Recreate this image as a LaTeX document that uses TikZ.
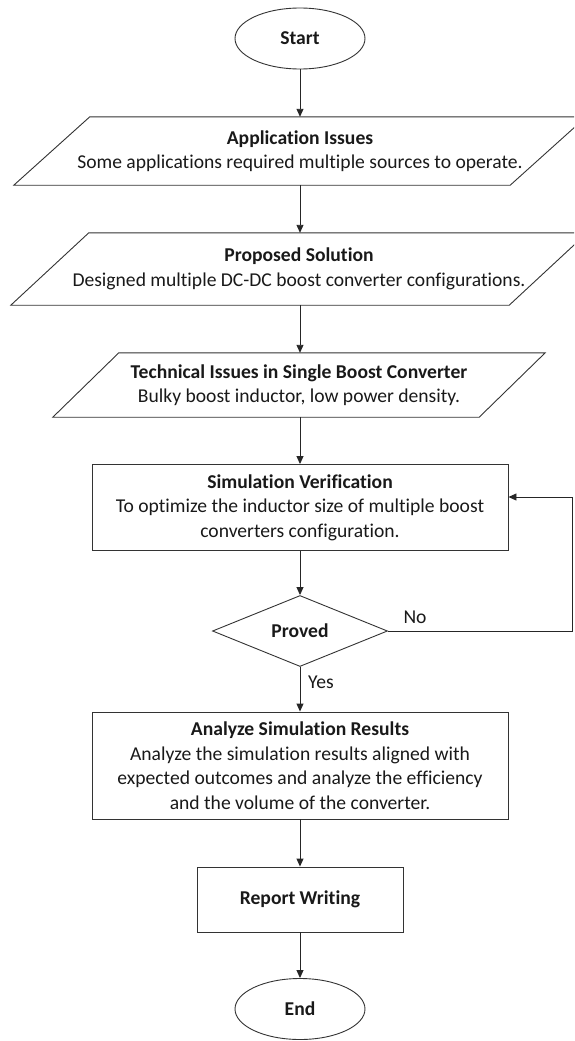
\documentclass[tikz,border=0pt]{standalone}
\usepackage{fontspec}
\setmainfont{Carlito}[Ligatures=NoCommon]
\usetikzlibrary{shapes.geometric,arrows.meta}

\begin{document}
\begin{tikzpicture}[x=1pt,y=-1pt,
  every node/.style={inner sep=0pt,align=center,text=black!90,font=\fontsize{19.6}{24.5}\selectfont},
  line/.style={draw=black!80,line width=0.9pt},
  term/.style={line,ellipse,minimum width=130pt,minimum height=61pt},
  body/.style={rectangle},
  stepbox/.style={line,rectangle},
  decide/.style={line,diamond,minimum width=175pt,minimum height=68pt},
  arr/.style={draw=black!85,line width=0.9pt,-{Triangle[length=8pt,width=7pt]}}]
\path[use as bounding box,clip] (0,0) rectangle (574,1041);
\node[term] (start) at (300,38.5) {\textbf{Start}};
\node[body,minimum width=496pt,minimum height=68pt] (issue) at (300,151) {\textbf{Application Issues}\\Some applications required multiple sources to operate.};
\draw[line] ([xshift=-38pt]issue.south west) -- ([xshift=-38pt]issue.south east) -- ([xshift=38pt]issue.north east) -- ([xshift=38pt]issue.north west) -- cycle;
\node[body,minimum width=498pt,minimum height=72pt] (solution) at (299,269) {\textbf{Proposed Solution}\\Designed multiple DC-DC boost converter configurations.};
\draw[line] ([xshift=-39pt]solution.south west) -- ([xshift=-39pt]solution.south east) -- ([xshift=39pt]solution.north east) -- ([xshift=39pt]solution.north west) -- cycle;
\node[body,minimum width=426pt,minimum height=64pt] (single) at (299,385) {\textbf{Technical Issues in Single Boost Converter}\\Bulky boost inductor, low power density.};
\draw[line] ([xshift=-33pt]single.south west) -- ([xshift=-33pt]single.south east) -- ([xshift=33pt]single.north east) -- ([xshift=33pt]single.north west) -- cycle;
\node[stepbox,minimum width=416pt,minimum height=86pt] (sim) at (300,507.5) {\textbf{Simulation Verification}\\To optimize the inductor size of multiple boost\\converters configuration.};
\node[decide] (proved) at (300,631) {\textbf{Proved}};
\node[stepbox,minimum width=416pt,minimum height=107pt] (analyze) at (300,765.5) {\textbf{Analyze Simulation Results}\\Analyze the simulation results aligned with\\expected outcomes and analyze the efficiency\\and the volume of the converter.};
\node[stepbox,minimum width=206pt,minimum height=65pt] (report) at (300,899.5) {\textbf{Report Writing}};
\node[term] (end) at (300,1009) {\textbf{End}};
\node (no) at (415,617) {No};
\node (yes) at (321,682) {Yes};
\coordinate (back) at (572,497);
\draw[arr] (start) -- (start |- issue.north);
\draw[arr] (start |- issue.south) -- (start |- solution.north);
\draw[arr] (start |- solution.south) -- (start |- single.north);
\draw[arr] (start |- single.south) -- (sim);
\draw[arr] (sim) -- (proved);
\draw[arr] (proved) -- (analyze);
\draw[arr] (analyze) -- (report);
\draw[arr] (report) -- (end);
\draw[arr] (proved.east) -| (back) -- (sim.east |- back);
\end{tikzpicture}
\end{document}
